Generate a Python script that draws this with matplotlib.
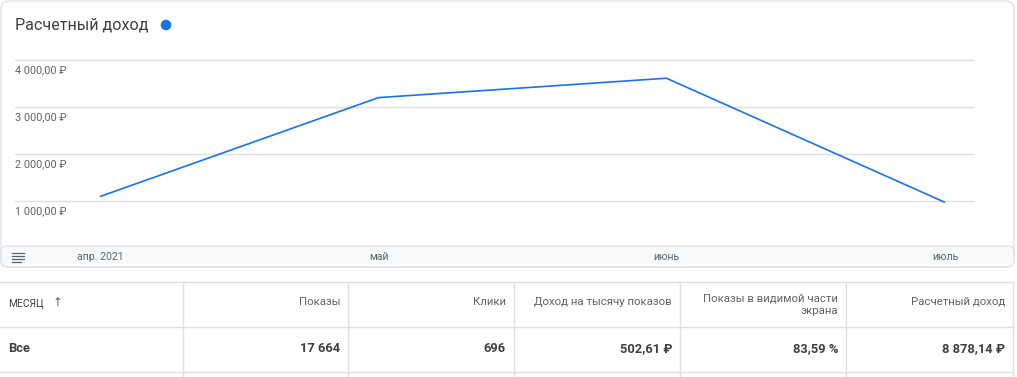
import matplotlib
matplotlib.use("Agg")
import matplotlib.pyplot as plt
import matplotlib.transforms as mtransforms
from matplotlib.patches import FancyBboxPatch, Circle
from matplotlib.lines import Line2D
from datetime import datetime, timedelta

plt.rcParams['font.family'] = ['Roboto', 'DejaVu Sans']

# ---- data ----
months = [datetime(2021, 4, 1), datetime(2021, 5, 1), datetime(2021, 6, 1), datetime(2021, 7, 1)]
month_labels = ["апр. 2021", "май", "июнь", "июль"]
revenue = [1095, 3200, 3612, 971]
y_ticks = [1000, 2000, 3000, 4000]
y_tick_labels = ["1 000,00 ₽", "2 000,00 ₽", "3 000,00 ₽", "4 000,00 ₽"]
title = "Расчетный доход"

table_headers = ["МЕСЯЦ", "Показы", "Клики", "Доход на тысячу показов",
                 "Показы в видимой части\nэкрана", "Расчетный доход"]
table_row = ["Все", "17 664", "696", "502,61 ₽", "83,59 %", "8 878,14 ₽"]

# ---- figure ----
W, H = 1017, 377
fig = plt.figure(figsize=(W / 100, H / 100), dpi=100)
px = mtransforms.Affine2D().scale(1 / 100) + fig.dpi_scale_trans


def Y(py):
    return H - py


TXT = '#3c4043'
SUB = '#5f6368'
GRID = '#e0e0e0'
BLUE = '#1a73e8'

# card border
card = FancyBboxPatch((1, Y(267)), 1013, 266, boxstyle="round,pad=0,rounding_size=8",
                      transform=px, facecolor='white', edgecolor='#dadce0', lw=0.8, zorder=-3)
fig.patches.append(card)
# bottom strip
strip = FancyBboxPatch((1, Y(267)), 1013, 21, boxstyle="round,pad=0,rounding_size=6",
                       transform=px, facecolor='#f8f9fa', edgecolor='#dadce0', lw=0.8, zorder=-2)
fig.patches.append(strip)
fig.lines.append(Line2D([1, 1014], [Y(246), Y(246)], transform=px, color='#e8eaed', lw=0.8, zorder=-1))

# hamburger icon
for i, (x0, x1) in enumerate([(12, 24), (12, 24), (12, 24), (12, 21)]):
    yy = Y(252.5 + i * 3)
    fig.lines.append(Line2D([x0, x1], [yy, yy], transform=px, color=SUB, lw=0.9, zorder=3))

# title
fig.text(15 / W, 1 - 25 / H, title, fontsize=11.6, color=TXT, va='center', ha='left')
fig.patches.append(Circle((166, Y(25)), 5.3, transform=px, facecolor=BLUE, edgecolor='none'))

# ---- line chart axes ----
ax_l, ax_r, ax_t, ax_b = 15, 975, 40, 246
ax = fig.add_axes([ax_l / W, 1 - ax_b / H, (ax_r - ax_l) / W, (ax_b - ax_t) / H])
ax.set_facecolor('none')
ppd = (945 - 100) / (months[-1] - months[0]).days
ax.set_xlim(months[0] - timedelta(days=(100 - ax_l) / ppd),
            months[-1] + timedelta(days=(ax_r - 945) / ppd))
ppu = 47 / 1000.0
ax.set_ylim(1000 - (ax_b - 201) / ppu, 4000 + (60 - ax_t) / ppu)

ax.plot(months, revenue, color=BLUE, lw=1.2, zorder=3, solid_capstyle='butt')
ax.set_yticks(y_ticks)
ax.grid(axis='y', color=GRID, lw=1.0)
ax.tick_params(axis='y', length=0, labelleft=False)
for s in ax.spines.values():
    s.set_visible(False)

off = mtransforms.offset_copy(ax.get_yaxis_transform(), fig=fig, x=0, y=-10.5, units='dots')
for v, lab in zip(y_ticks, y_tick_labels):
    ax.text(0.0, v, lab, transform=off, fontsize=7.8, color=SUB, ha='left', va='center')

ax.set_xticks(months)
ax.set_xticklabels(month_labels, fontsize=7.6, color=SUB)
ax.tick_params(axis='x', length=0, pad=4.3)

# ---- table ----
col_edges = [0, 183, 348, 514, 680, 846, 1013]
fig.lines.append(Line2D([0, 1013], [Y(282), Y(282)], transform=px, color=GRID, lw=1))
fig.lines.append(Line2D([0, 1013], [Y(326.5), Y(326.5)], transform=px, color=GRID, lw=1))
fig.lines.append(Line2D([0, 1013], [Y(371.5), Y(371.5)], transform=px, color=GRID, lw=1))
for xe in col_edges[1:]:
    fig.lines.append(Line2D([xe, xe], [Y(282), Y(377)], transform=px, color=GRID, lw=1))

for i, (hdr, val) in enumerate(zip(table_headers, table_row)):
    if i == 0:
        fig.text(8 / W, 1 - 304 / H, hdr, fontsize=7.4, color=TXT, ha='left', va='center')
        fig.text(53 / W, 1 - 303 / H, "↑", fontsize=8.5, color=SUB, ha='left', va='center',
                 family=['DejaVu Sans'])
        fig.text(8 / W, 1 - 349 / H, val, fontsize=9.3, color=TXT, ha='left', va='center',
                 fontweight='bold')
    else:
        xr = col_edges[i + 1] - 8
        yc = 305 if '\n' in hdr else 302
        fig.text(xr / W, 1 - yc / H, hdr, fontsize=8.2, color=SUB, ha='right', va='center',
                 multialignment='right', linespacing=1.3)
        fig.text(xr / W, 1 - 349 / H, val, fontsize=9.3, color=TXT, ha='right', va='center',
                 fontweight='bold')

fig.savefig('out.png', dpi=100)
